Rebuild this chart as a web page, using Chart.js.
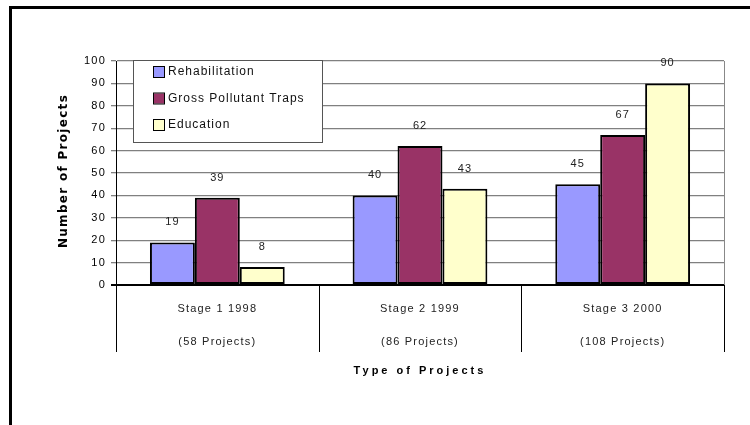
<!DOCTYPE html>
<html>
<head>
    <title>Projects by Stage</title>
    <script src="https://cdn.jsdelivr.net/npm/chart.js@4.4.1/dist/chart.umd.min.js"></script>
    <style>
        body { margin: 0; background: #fff; }
        canvas { display: block; }
    </style>
</head>
<body>
    <canvas id="myChart" width="750" height="425"></canvas>

    <script>
        // chart values
        const stageLabels = ['Stage 1 1998', 'Stage 2 1999', 'Stage 3 2000'];
        const projectCounts = ['(58 Projects)', '(86 Projects)', '(108 Projects)'];
        const rehabilitation = [19, 40, 45];
        const grossPollutantTraps = [39, 62, 67];
        const education = [8, 43, 90];
        const yMin = 0, yMax = 100, yStep = 10;

        const FONT = '"Liberation Sans", Arial, sans-serif';

        // frame, titles, category dividers, value labels and the boxed legend
        const decorations = {
            id: 'decorations',
            beforeDraw(chart) {
                chart.ctx.letterSpacing = '1.2px';
            },
            afterDraw(chart) {
                const ctx = chart.ctx;
                const area = chart.chartArea;
                const x = chart.scales.x;
                ctx.save();

                // right edge of plot
                ctx.strokeStyle = '#888';
                ctx.lineWidth = 1;
                ctx.beginPath();
                ctx.moveTo(area.right + 0.5, area.top);
                ctx.lineTo(area.right + 0.5, area.bottom);
                ctx.stroke();

                // category divider lines below the axis
                ctx.strokeStyle = '#000';
                const n = stageLabels.length;
                for (let i = 0; i <= n; i++) {
                    let px = Math.round(x.left + i * x.width / n) + 0.5;
                    ctx.beginPath();
                    ctx.moveTo(px, area.bottom);
                    ctx.lineTo(px, area.bottom + 67);
                    ctx.stroke();
                }

                // value labels above bars
                ctx.fillStyle = '#222';
                ctx.font = '11px ' + FONT;
                ctx.letterSpacing = '1px';
                ctx.textAlign = 'center';
                ctx.textBaseline = 'middle';
                chart.data.datasets.forEach((ds, di) => {
                    chart.getDatasetMeta(di).data.forEach((el, i) => {
                        ctx.fillText(String(ds.data[i]), el.x, el.y - 20);
                    });
                });

                // legend box
                ctx.fillStyle = '#fff';
                ctx.fillRect(133, 60, 189, 82);
                ctx.strokeStyle = '#555';
                ctx.strokeRect(133.5, 60.5, 189, 82);
                ctx.font = '12px ' + FONT;
                ctx.textAlign = 'left';
                chart.data.datasets.forEach((ds, di) => {
                    let cy = 72 + di * 26.5;
                    ctx.fillStyle = ds.backgroundColor;
                    ctx.fillRect(154, cy - 5, 10, 10);
                    ctx.strokeStyle = '#000';
                    ctx.strokeRect(153.5, cy - 5.5, 11, 11);
                    ctx.fillStyle = '#111';
                    ctx.fillText(ds.label, 168, cy);
                });

                // axis titles
                ctx.fillStyle = '#000';
                ctx.font = 'bold 11px ' + FONT;
                ctx.letterSpacing = '3px';
                ctx.textAlign = 'center';
                ctx.fillText('Type of Projects', (area.left + area.right) / 2, 371);

                ctx.save();
                ctx.translate(64, 171);
                ctx.rotate(-Math.PI / 2);
                ctx.font = 'bold 12px "DejaVu Sans", sans-serif';
                ctx.letterSpacing = '1.3px';
                ctx.fillText('Number of Projects', 0, 0);
                ctx.restore();

                // outer frame
                ctx.strokeStyle = '#000';
                ctx.lineWidth = 3;
                ctx.strokeRect(10.5, 7.5, 800, 500);

                ctx.restore();
            }
        };

        const ctx = document.getElementById('myChart');
        const myChart = new Chart(ctx, {
            type: 'bar',
            data: {
                labels: stageLabels.map((s, i) => [s, projectCounts[i]]),
                datasets: [
                    { label: 'Rehabilitation', data: rehabilitation, backgroundColor: '#9999ff' },
                    { label: 'Gross Pollutant Traps', data: grossPollutantTraps, backgroundColor: '#993366' },
                    { label: 'Education', data: education, backgroundColor: '#ffffcc' }
                ]
            },
            options: {
                responsive: false,
                animation: false,
                layout: { padding: { top: 61, right: 26, left: 0, bottom: 0 } },
                datasets: {
                    bar: {
                        borderColor: '#000',
                        borderWidth: 2,
                        borderSkipped: false,
                        categoryPercentage: 0.665,
                        barPercentage: 1
                    }
                },
                plugins: {
                    legend: { display: false },
                    tooltip: { enabled: false }
                },
                scales: {
                    x: {
                        grid: { display: false },
                        border: { display: false },
                        ticks: {
                            color: '#222',
                            padding: -1,
                            font: { family: FONT, size: 11, lineHeight: 3 }
                        },
                        afterFit(scale) { scale.height = 140; }
                    },
                    y: {
                        min: yMin,
                        max: yMax,
                        ticks: {
                            stepSize: yStep,
                            color: '#000',
                            padding: 5,
                            font: { family: FONT, size: 11 }
                        },
                        grid: {
                            color: c => c.tick.value === 0 ? '#000' : '#808080',
                            lineWidth: c => c.tick.value === 0 ? 2 : 1.3,
                            tickLength: 5
                        },
                        border: { color: '#000', width: 1 },
                        afterFit(scale) { scale.width = 116; }
                    }
                }
            },
            plugins: [decorations]
        });
    </script>
</body>
</html>
